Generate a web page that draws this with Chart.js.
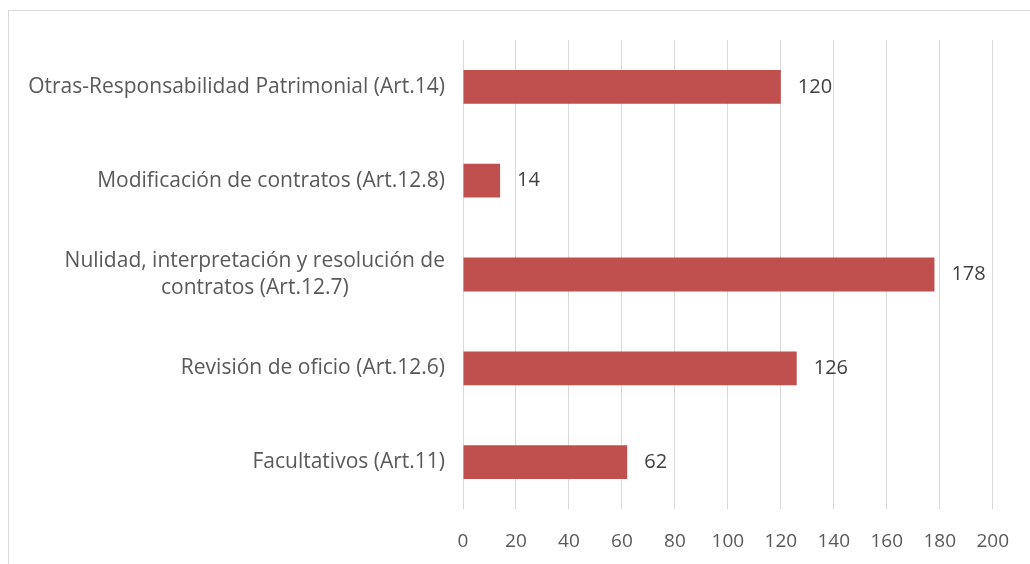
<!DOCTYPE html>
<html>
<head>
<meta charset="utf-8">
<script src="https://cdn.jsdelivr.net/npm/chart.js@4"></script>
<style>
  body { margin: 0; background: #fff; }
  #wrap { position: relative; width: 1030px; height: 564px; overflow: hidden; }
  #frame { position: absolute; left: 8px; top: 10px; width: 1100px; height: 600px;
           border-left: 1px solid #d9d9d9; border-top: 1px solid #d9d9d9; }
  canvas { position: absolute; left: 0; top: 0; }
</style>
</head>
<body>
<div id="wrap">
  <div id="frame"></div>
  <canvas id="myChart" width="1030" height="564"></canvas>
</div>
<script>
const categories = [
    ['Otras-Responsabilidad Patrimonial (Art.14)'],
    ['Modificación de contratos (Art.12.8)'],
    ['Nulidad, interpretación y resolución de', 'contratos (Art.12.7)'],
    ['Revisión de oficio (Art.12.6)'],
    ['Facultativos (Art.11)']
]
const values = [120, 14, 178, 126, 62]
const xTicks = [0, 20, 40, 60, 80, 100, 120, 140, 160, 180, 200]

const fontFamily = "'Open Sans', sans-serif"

// draws the category labels (centered lines, right aligned block) and the value labels
const labelsPlugin = {
    id: 'labelsPlugin',
    afterDatasetsDraw(chart) {
        const ctx = chart.ctx
        const yScale = chart.scales.y
        const meta = chart.getDatasetMeta(0)
        ctx.save()
        ctx.font = `21px ${fontFamily}`
        ctx.textBaseline = 'middle'
        categories.forEach((lines, i) => {
            const y = yScale.getPixelForValue(i)
            const widths = lines.map(l => ctx.measureText(l).width)
            const maxW = Math.max(...widths)
            const right = chart.chartArea.left - 18
            const lh = 27
            ctx.fillStyle = '#595959'
            ctx.textAlign = 'center'
            lines.forEach((l, j) => {
                ctx.fillText(l, right - maxW / 2, y + (j - (lines.length - 1) / 2) * lh)
            })
        })
        ctx.font = `20px ${fontFamily}`
        ctx.fillStyle = '#404040'
        ctx.textAlign = 'left'
        meta.data.forEach((bar, i) => {
            ctx.fillText(values[i], bar.x + 17, bar.y)
        })
        ctx.restore()
    }
}

new Chart(document.getElementById('myChart'), {
    type: 'bar',
    data: {
        labels: categories,
        datasets: [{
            data: values,
            backgroundColor: '#c0504d',
            barPercentage: 0.36,
            categoryPercentage: 1
        }]
    },
    options: {
        indexAxis: 'y',
        responsive: false,
        animation: false,
        layout: { padding: { top: 40, right: 36 } },
        plugins: { legend: { display: false }, tooltip: { enabled: false } },
        scales: {
            x: {
                min: 0,
                max: 200,
                afterBuildTicks(scale) { scale.ticks = xTicks.map(v => ({ value: v })) },
                afterFit(scale) { scale.height = 55 },
                grid: { color: '#d9d9d9', lineWidth: 1, drawTicks: false },
                border: { display: false },
                ticks: { color: '#595959', font: { family: fontFamily, size: 19 }, padding: 21 }
            },
            y: {
                afterFit(scale) { scale.width = 463 },
                grid: { display: false },
                border: { display: false },
                ticks: { display: false }
            }
        }
    },
    plugins: [labelsPlugin]
})
</script>
</body>
</html>
